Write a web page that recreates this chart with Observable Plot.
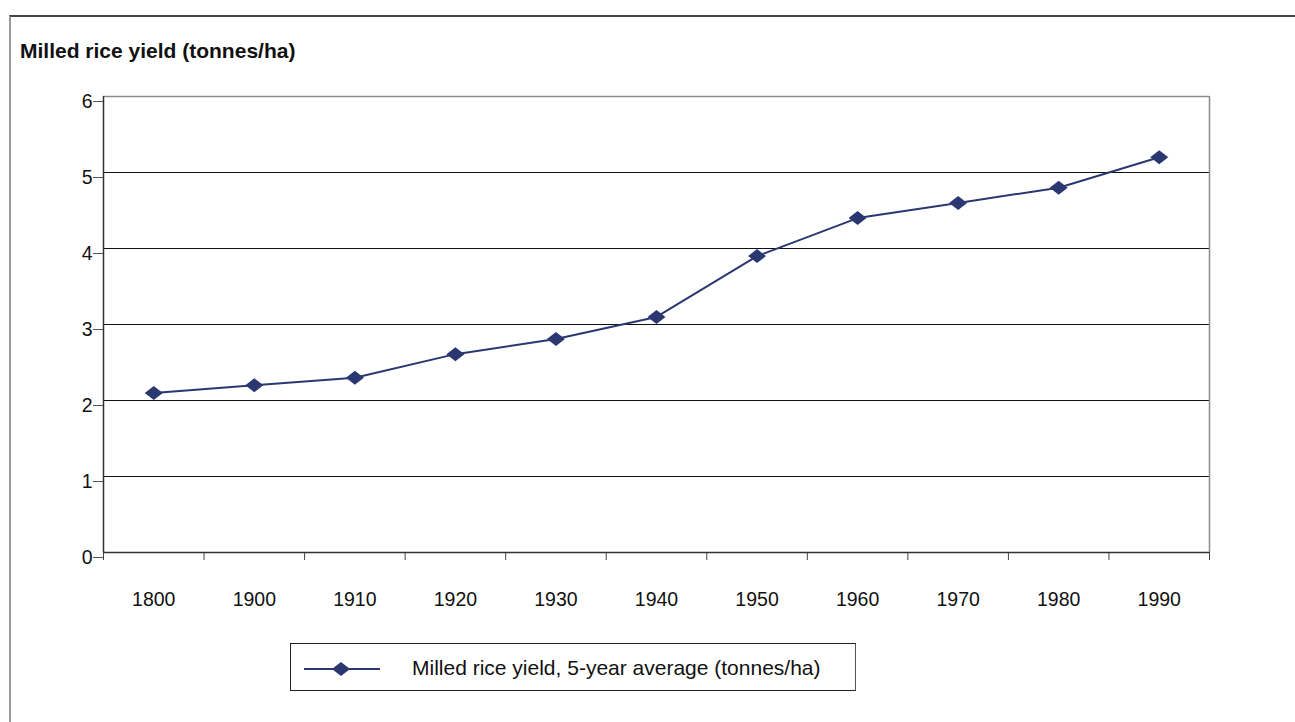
<!DOCTYPE html>
<html>
<head>
<meta charset="utf-8">
<script src="https://cdn.jsdelivr.net/npm/d3@7"></script>
<script src="https://cdn.jsdelivr.net/npm/@observablehq/plot@0.6"></script>
<style>
  body { margin: 0; background: #fff; font-family: "Liberation Sans", Arial, sans-serif; width: 1295px; height: 722px; overflow: hidden; position: relative; }
  #frame { position: absolute; left: 9px; top: 15px; width: 1300px; height: 730px; border-top: 2px solid #444; border-left: 2px solid #999; }
  #title { position: absolute; left: 20px; top: 40px; font-weight: bold; font-size: 21px; line-height: 21px; color: #111; white-space: nowrap; }
  #chart { position: absolute; left: 0; top: 70px; }
  #legend { position: absolute; left: 290px; top: 643px; width: 566px; height: 48px; border: 1px solid #222; border-right-color: #555; box-sizing: border-box; background: #fff; }
  #legend svg { position: absolute; left: 0; top: 0; }
  #legend span { position: absolute; left: 121px; top: 13px; font-size: 21px; line-height: 21px; color: #111; white-space: nowrap; }
</style>
</head>
<body>
<div id="frame"></div>
<div id="title">Milled rice yield (tonnes/ha)</div>
<div id="chart"></div>
<div id="legend"></div>
<script>
const years = ["1800", "1900", "1910", "1920", "1930", "1940", "1950", "1960", "1970", "1980", "1990"];
const yieldValues = [2.1, 2.2, 2.3, 2.61, 2.81, 3.1, 3.9, 4.4, 4.6, 4.8, 5.2];
const yTicks = [0, 1, 2, 3, 4, 5, 6];
const seriesName = "Milled rice yield, 5-year average (tonnes/ha)";

const data = years.map((year, i) => ({i, year, value: yieldValues[i]}));
const boundaries = d3.range(-0.5, years.length);
const lineColor = "#2a3770";

const diamond = {
  draw(ctx) {
    ctx.moveTo(9, 0);
    ctx.lineTo(0, 7);
    ctx.lineTo(-9, 0);
    ctx.lineTo(0, -7);
    ctx.closePath();
  }
};

const chart = Plot.plot({
  width: 1295,
  height: 560,
  marginTop: 26,
  marginBottom: 78,
  marginLeft: 103,
  marginRight: 86,
  style: { fontSize: "19.5px", fontFamily: "'Liberation Sans', Arial, sans-serif", color: "#222", background: "transparent" },
  x: { type: "linear", domain: [-0.5, years.length - 0.5] },
  y: { domain: [0, 6] },
  marks: [
    Plot.gridY(yTicks.slice(1, -1), { stroke: "#111", strokeOpacity: 1, strokeWidth: 1.2 }),
    Plot.ruleY([6], { stroke: "#8c8c8c", strokeWidth: 1.5 }),
    Plot.ruleX([years.length - 0.5], { stroke: "#8c8c8c", strokeWidth: 1.5 }),
    Plot.axisY(yTicks, { tickSize: 10, tickPadding: 1, dy: 5, label: null, stroke: "#555", tickFormat: d3.format("d"), fontSize: 19.5, fill: "#111" }),
    Plot.axisX(boundaries, { tickSize: 8, tickFormat: () => "", label: null, stroke: "#444" }),
    Plot.axisX(d3.range(years.length), { tickSize: 0, tickPadding: 40, tickFormat: i => years[i], label: null, fill: "#111", fontSize: 19.5 }),
    Plot.ruleY([0], { stroke: "#333", strokeWidth: 1.5 }),
    Plot.ruleX([-0.5], { stroke: "#333", strokeWidth: 1.5 }),
    Plot.line(data, { x: "i", y: "value", stroke: lineColor, strokeWidth: 2 }),
    Plot.dot(data, { x: "i", y: "value", symbol: diamond, fill: lineColor, stroke: "none", r: 5 })
  ]
});
document.getElementById("chart").appendChild(chart);

// Legend
const legend = document.getElementById("legend");
const ns = "http://www.w3.org/2000/svg";
const sv = document.createElementNS(ns, "svg");
sv.setAttribute("width", "110");
sv.setAttribute("height", "48");
const ln = document.createElementNS(ns, "line");
ln.setAttribute("x1", "13"); ln.setAttribute("x2", "89");
ln.setAttribute("y1", "25"); ln.setAttribute("y2", "25");
ln.setAttribute("stroke", lineColor); ln.setAttribute("stroke-width", "2");
sv.appendChild(ln);
const dp = document.createElementNS(ns, "path");
dp.setAttribute("d", d3.symbol(diamond)());
dp.setAttribute("transform", "translate(50,25)");
dp.setAttribute("fill", lineColor);
sv.appendChild(dp);
legend.appendChild(sv);
const sp = document.createElement("span");
sp.textContent = seriesName;
legend.appendChild(sp);
</script>
</body>
</html>
